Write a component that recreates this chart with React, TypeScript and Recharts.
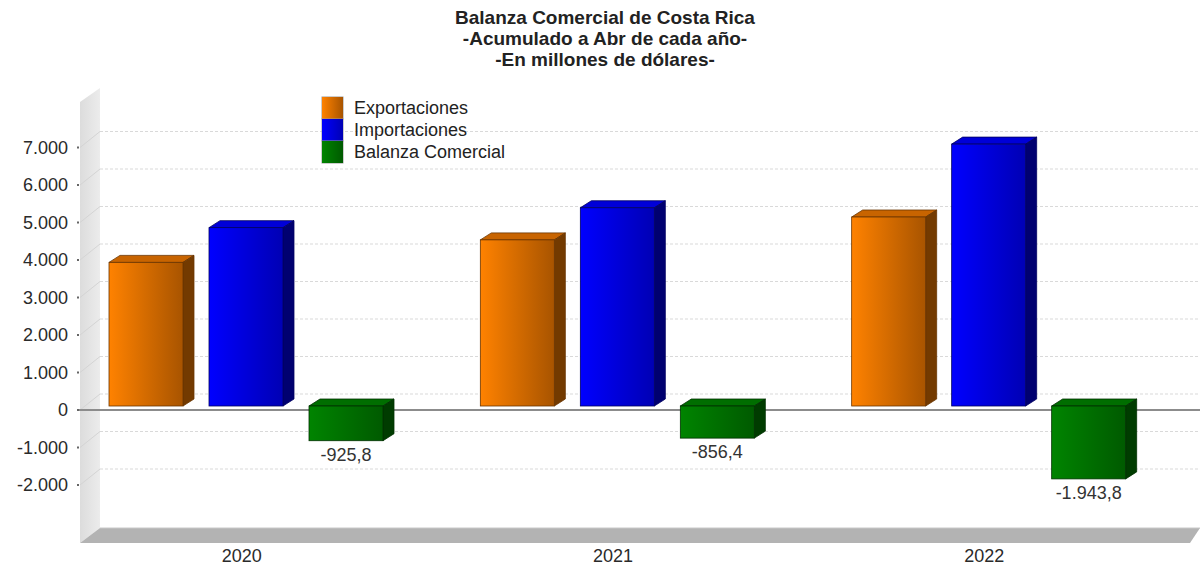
import React from 'react';
import { BarChart, Bar, XAxis, YAxis, CartesianGrid, LabelList } from 'recharts';

// values in millions of USD, accumulated to April
const years = ['2020', '2021', '2022'];
const exportaciones = [3830, 4430, 5040];
const importaciones = [4755.8, 5286.4, 6983.8];
const balanza = [-925.8, -856.4, -1943.8];
const yTicks = [-2000, -1000, 0, 1000, 2000, 3000, 4000, 5000, 6000, 7000];

const titleLines = [
  'Balanza Comercial de Costa Rica',
  '-Acumulado a Abr de cada año-',
  '-En millones de dólares-',
];

const series = [
  { key: 'exp', name: 'Exportaciones', c1: '#ff8200', c2: '#a85400', side: '#733a00', top: '#c86400', edge: '#6a3500' },
  { key: 'imp', name: 'Importaciones', c1: '#0000ff', c2: '#0000b4', side: '#000070', top: '#0000d8', edge: '#000060' },
  { key: 'bal', name: 'Balanza Comercial', c1: '#008400', c2: '#005a00', side: '#003c00', top: '#006e00', edge: '#003000' },
];

const data = years.map((year, i) => ({
  year,
  exp: exportaciones[i],
  imp: importaciones[i],
  bal: balanza[i],
}));

const W = 1200;
const H = 565;
const TOP = 91;
const BOTTOM = 39;
const Y_W = 60;
const RIGHT = 26;
const Y_MIN = -3200;
const Y_MAX = 8400;
const PLOT_H = H - TOP - BOTTOM;
const ZERO_Y = TOP + (Y_MAX / (Y_MAX - Y_MIN)) * PLOT_H;
const DX = 11;
const DY = 7;
const FONT = '"Liberation Sans", Arial, sans-serif';

const fmt = (v: number) => {
  const neg = v < 0;
  const [int, dec] = Math.abs(v).toFixed(1).split('.');
  const withDots = int.replace(/\B(?=(\d{3})+(?!\d))/g, '.');
  return (neg ? '-' : '') + withDots + ',' + dec;
};
const fmtTick = (v: number) => {
  const s = Math.abs(v).toString().replace(/\B(?=(\d{3})+(?!\d))/g, '.');
  return (v < 0 ? '-' : '') + s;
};

const makeShape = (s: typeof series[number]) => (props: any) => {
  const { x, y, width, height } = props;
  if (x == null || y == null) return null;
  const top = Math.min(y, y + height);
  const h = Math.abs(height);
  const gid = `grad-${s.key}`;
  return (
    <g>
      <defs>
        <linearGradient id={gid} x1="0" y1="0" x2="1" y2="0">
          <stop offset="0%" stopColor={s.c1} />
          <stop offset="100%" stopColor={s.c2} />
        </linearGradient>
      </defs>
      <polygon
        points={`${x},${top} ${x + DX},${top - DY} ${x + width + DX},${top - DY} ${x + width},${top}`}
        fill={s.top}
        stroke={s.edge}
        strokeWidth={0.8}
      />
      <polygon
        points={`${x + width},${top} ${x + width + DX},${top - DY} ${x + width + DX},${top + h - DY} ${x + width},${top + h}`}
        fill={s.side}
        stroke={s.edge}
        strokeWidth={0.8}
      />
      <rect x={x} y={top} width={width} height={h} fill={`url(#${gid})`} stroke={s.edge} strokeWidth={0.8} />
    </g>
  );
};

const BalLabel = (props: any) => {
  const { x, y, width, height, value } = props;
  const bottom = Math.max(y, y + height);
  return (
    <text x={x + width / 2} y={bottom + 20} textAnchor="middle" fontSize={18} fill="#333" fontFamily={FONT}>
      {fmt(value)}
    </text>
  );
};

const gridLine = (p: any) => {
  const y = p.y1;
  // only tick lines, not the plot edges
  if (y < TOP + 2 || y > TOP + PLOT_H - 2) return <g key={`grid-${p.index}`} />;
  const back = y - 12;
  const isZero = Math.abs(y - ZERO_Y) < 1;
  return (
    <g key={`grid-${p.index}`}>
      <line x1={80} y1={y + 4} x2={100} y2={back} stroke="#d4d4d4" strokeWidth={1} />
      <line x1={100} y1={back} x2={W} y2={back} stroke="#d9d9d9" strokeWidth={1} strokeDasharray="3 2" />
      {isZero && <line x1={77} y1={y + 4} x2={W} y2={y + 4} stroke="#8c8c8c" strokeWidth={2} />}
    </g>
  );
};

const YTick = (props: any) => {
  const { y, payload } = props;
  return (
    <g>
      <text x={Y_W + 8} y={y + 10} textAnchor="end" fontSize={18} fill="#2a2a2a" fontFamily={FONT}>
        {fmtTick(payload.value)}
      </text>
      <rect x={77} y={y + 3} width={2} height={2} fill="#666" />
    </g>
  );
};

const XTick = (props: any) => {
  const { x, y, payload } = props;
  return (
    <text x={x - 4} y={y + 36} textAnchor="middle" fontSize={18} fill="#2a2a2a" fontFamily={FONT}>
      {payload.value}
    </text>
  );
};

export default function App() {
  return (
    <div style={{ position: 'absolute', left: 0, top: 0, width: W, height: H, background: '#fff', fontFamily: FONT }}>
      <svg width={W} height={H} style={{ position: 'absolute', left: 0, top: 0 }}>
        <defs>
          <linearGradient id="wall" x1="0" y1="0" x2="1" y2="0">
            <stop offset="0%" stopColor="#dcdcdc" />
            <stop offset="100%" stopColor="#ececec" />
          </linearGradient>
        </defs>
        <polygon points="80,102 100,88 100,528 80,543" fill="url(#wall)" />
        <polygon points="80,543 100,528 1200,528 1190,543" fill="#b3b3b3" />
        <line x1={100} y1={528} x2={1200} y2={528} stroke="#c8c8c8" />
      </svg>

      <div style={{ position: 'absolute', left: 0, top: 0 }}>
        <BarChart
          width={W}
          height={H}
          data={data}
          margin={{ top: TOP, right: RIGHT, bottom: 0, left: 0 }}
          barCategoryGap={49}
          barGap={26}
        >
          <CartesianGrid vertical={false} horizontal={gridLine} />
          <XAxis dataKey="year" axisLine={false} tickLine={false} tickSize={0} tickMargin={0} height={BOTTOM} tick={<XTick />} />
          <YAxis
            domain={[Y_MIN, Y_MAX]}
            ticks={yTicks}
            width={Y_W}
            axisLine={false}
            tickLine={false}
            tick={<YTick />}
            allowDataOverflow
          />
          {series.map((s) => (
            <Bar key={s.key} dataKey={s.key} name={s.name} shape={makeShape(s)} isAnimationActive={false}>
              {s.key === 'bal' && <LabelList dataKey="bal" content={<BalLabel />} />}
            </Bar>
          ))}
        </BarChart>
      </div>

      <div
        style={{
          position: 'absolute',
          left: 0,
          top: 7,
          width: 1210,
          textAlign: 'center',
          fontWeight: 'bold',
          fontSize: 19,
          lineHeight: '21px',
          color: '#222',
        }}
      >
        {titleLines.map((t) => (
          <div key={t}>{t}</div>
        ))}
      </div>

      <div style={{ position: 'absolute', left: 322, top: 97 }}>
        {series.map((s) => (
          <div key={s.key} style={{ display: 'flex', alignItems: 'center', height: 22 }}>
            <div
              style={{
                width: 21,
                height: 22,
                background: `linear-gradient(to right, ${s.c1}, ${s.c2})`,
                boxShadow: '0 0 0 0.5px #999',
              }}
            />
            <span style={{ marginLeft: 11, fontSize: 18, color: '#222' }}>{s.name}</span>
          </div>
        ))}
      </div>
    </div>
  );
}
